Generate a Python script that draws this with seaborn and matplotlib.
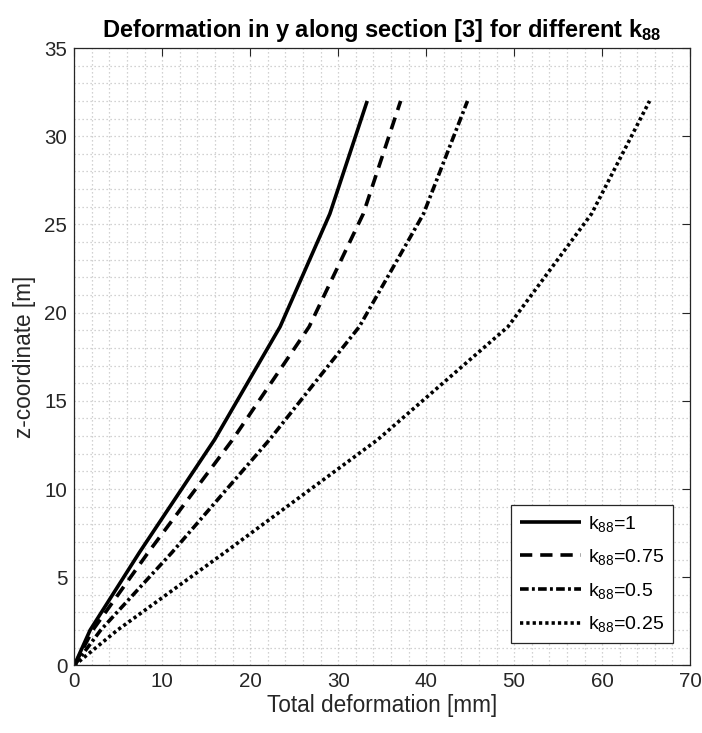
import numpy as np
import pandas as pd
import matplotlib
matplotlib.use("Agg")
import matplotlib.pyplot as plt
from matplotlib.ticker import MultipleLocator
import seaborn as sns

# z-coordinates of the section nodes [m]
z_coord = [0, 2.0, 6.4, 12.8, 19.2, 25.6, 32.0]

# total deformation in y [mm] for each k88 value
defl_k1 = [0, 1.8, 7.4, 15.95, 23.4, 29.05, 33.3]
defl_k075 = [0, 2.1, 8.4, 18.0, 26.7, 32.85, 37.1]
defl_k05 = [0, 3.0, 11.1, 22.2, 32.4, 39.7, 44.7]
defl_k025 = [0, 4.9, 17.1, 34.5, 49.3, 58.8, 65.4]

series_labels = [r"k$_{88}$=1", r"k$_{88}$=0.75", r"k$_{88}$=0.5", r"k$_{88}$=0.25"]
series_values = [defl_k1, defl_k075, defl_k05, defl_k025]
line_styles = ["-", (0, (3.4, 2.2)), (0, (2.4, 0.9, 0.8, 0.9)), (0, (0.9, 0.85))]

x_ticks = [0, 10, 20, 30, 40, 50, 60, 70]
y_ticks = [0, 5, 10, 15, 20, 25, 30, 35]

sns.set_style("white")
plt.rcParams["font.family"] = ["Liberation Sans", "DejaVu Sans"]
plt.rcParams["mathtext.fontset"] = "custom"
plt.rcParams["mathtext.rm"] = "Liberation Sans"
plt.rcParams["mathtext.it"] = "Liberation Sans:italic"
plt.rcParams["mathtext.bf"] = "Liberation Sans:bold"
plt.rcParams["mathtext.default"] = "regular"

frames = []
for lab, vals in zip(series_labels, series_values):
    frames.append(pd.DataFrame({"z": z_coord, "d": vals, "k88": lab}))
df = pd.concat(frames, ignore_index=True)

fig = plt.figure(figsize=(7.02, 7.33), dpi=100)
ax = fig.add_axes([0.1058, 0.0922, 0.8772, 0.8423])

axis_col = "#262626"
for lab, ls in zip(series_labels, line_styles):
    sub = df[df["k88"] == lab]
    sns.lineplot(data=sub, x="d", y="z", ax=ax, color="black", linewidth=2.6,
                 linestyle=ls, sort=False, estimator=None, label=lab,
                 dash_capstyle="butt", solid_capstyle="butt")

ax.set_xlim(0, 70)
ax.set_ylim(0, 35)
ax.set_xticks(x_ticks)
ax.set_yticks(y_ticks)
ax.xaxis.set_minor_locator(MultipleLocator(2))
ax.yaxis.set_minor_locator(MultipleLocator(1))

ax.grid(which="both", color="#c4c4c4", linestyle=(0, (1, 2.2)), linewidth=0.9)
ax.set_axisbelow(True)

for sp in ax.spines.values():
    sp.set_visible(True)
    sp.set_color(axis_col)
    sp.set_linewidth(0.9)

ax.tick_params(which="major", direction="in", length=6, width=0.8, color=axis_col,
               labelcolor=axis_col, labelsize=14.8, top=True, right=True, pad=5)
ax.tick_params(which="minor", length=0, top=True, right=True)

ax.set_xlabel("Total deformation [mm]", fontsize=16.3, color=axis_col, labelpad=2)
ax.set_ylabel("z-coordinate [m]", fontsize=16.3, color=axis_col, labelpad=6)
ax.set_title(r"Deformation in y along section [3] for different k$_{\mathbf{88}}$",
             fontsize=17, fontweight="bold", color="black", pad=8)

leg = ax.legend(loc="lower right", bbox_to_anchor=(0.972, 0.036), fontsize=14,
                handlelength=3.15, handletextpad=0.36, labelspacing=0.7,
                borderpad=0.45, borderaxespad=0.0, frameon=True, fancybox=False,
                framealpha=1.0, edgecolor=axis_col)
leg.get_frame().set_linewidth(0.9)
for t in leg.get_texts():
    t.set_color("black")

fig.savefig("out.png", dpi=100)
